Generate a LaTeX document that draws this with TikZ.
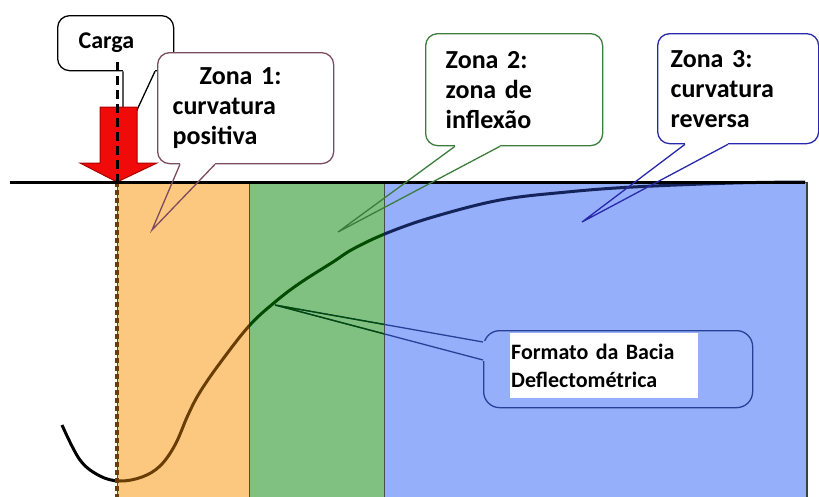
\documentclass[tikz,border=0pt]{standalone}
\usepackage{fontspec}
\setmainfont{Carlito}

\definecolor{zorange}{RGB}{252,200,128}
\definecolor{zgreen}{RGB}{128,192,128}
\definecolor{zblue}{RGB}{150,175,250}
\definecolor{cor}{RGB}{105,62,5}
\definecolor{cgr}{RGB}{0,75,0}
\definecolor{cbl}{RGB}{20,35,90}
\definecolor{z1col}{RGB}{125,75,95}
\definecolor{z2col}{RGB}{60,125,60}
\definecolor{z3col}{RGB}{40,40,170}
\definecolor{fbcol}{RGB}{40,65,150}
\definecolor{arrowred}{RGB}{240,10,10}
\definecolor{arrowdk}{RGB}{170,0,0}

\tikzset{balloon/.style={draw, fill=white, rounded corners=12pt, line width=1.3pt,
  align=left, anchor=north west, font=\bfseries\fontsize{26}{30}\selectfont}}

% tail of a balloon: colour, node, left and right base offsets, tip
\newcommand{\calltail}[5]{%
  \fill[white] ([xshift=#3, yshift=1.5pt]#2.south west) rectangle ([xshift=#4, yshift=-0.8pt]#2.south west);
  \draw[#1, line width=1.3pt] ([xshift=#3]#2.south west) -- (#5) -- ([xshift=#4]#2.south west);}

\newcommand{\perfil}{plot[smooth, tension=0.6] coordinates {(62,425) (80,460) (100,476) (120,481)
  (142,477) (160,466) (175,445) (188,415) (200,392) (220,363) (249,326) (275,302) (300,283)
  (333,262) (353,249) (387,233) (433,217) (500,200) (567,192) (633,187) (733,183) (805,182)}}

\begin{document}
\begin{tikzpicture}[x=1pt, y=-1pt]
\useasboundingbox (0,0) rectangle (819,496);

% zonas
\filldraw[fill=zorange, draw=black!70, line width=0.8pt] (117,182) rectangle (249,500);
\filldraw[fill=zgreen, draw=black!70, line width=0.8pt] (249,182) rectangle (384,500);
\filldraw[fill=zblue, draw=black!70, line width=0.8pt] (384,182) rectangle (807,500);
\draw[black!75, line width=1.5pt] (807,182) -- (807,500);

% bacia deflectometrica
\foreach \xa/\xb/\col in {0/117/black, 117/249/cor, 249/384/cgr, 384/819/cbl}{
  \begin{scope}
    \clip (\xa,0) rectangle (\xb,500);
    \draw[color=\col, line width=3pt] \perfil;
  \end{scope}
}
\draw[cor, line width=3.5pt, dash pattern=on 5pt off 3pt] (117,182) -- (117,500);

% carga
\node[balloon, draw=black, inner xsep=21pt, text width=74pt, minimum height=55pt,
  font=\bfseries\fontsize{24}{30}\selectfont] (carga) at (57,15) {Carga};
\calltail{black}{carga}{66pt}{98pt}{123,140}
\filldraw[fill=arrowred, draw=arrowdk, line width=1pt] (100,107) -- (137,107) -- (137,163) -- (157,163)
  -- (117,182) -- (80,163) -- (100,163) -- cycle;
\draw[line width=3pt, dash pattern=on 9pt off 5pt] (117,62) -- (117,182);

\draw[line width=3pt] (10,182) -- (805,182);

% zonas 1 a 3
\node[balloon, draw=z1col, inner xsep=15pt, text width=146pt, minimum height=111pt] (zona1) at (157,52)
  {\hspace*{27pt}Zona 1:\\curvatura\\positiva};
\calltail{z1col}{zona1}{23pt}{58pt}{152,230}

\node[balloon, draw=z2col, inner xsep=20pt, text width=137pt, minimum height=112pt] (zona2) at (425,33)
  {Zona 2:\\zona de\\inflexão};
\calltail{z2col}{zona2}{30pt}{75pt}{338,232}

\node[balloon, draw=z3col, inner xsep=13pt, text width=135pt, minimum height=110pt] (zona3) at (657,33)
  {Zona 3:\\curvatura\\reversa};
\calltail{z3col}{zona3}{28pt}{71pt}{582,222}

% formato da bacia
\coordinate (ponto) at (275,305);
\node[draw=fbcol, line width=1.3pt, rounded corners=16pt, minimum width=269pt, minimum height=77pt,
  anchor=north west] (bacia) at (483,330) {};
\fill[zblue] ([xshift=-1.5pt, yshift=-11pt]bacia.north west) rectangle ([xshift=2.5pt, yshift=-31pt]bacia.north west);
\draw[fbcol, line width=1.3pt] ([yshift=-12pt]bacia.north west) -- (ponto) -- ([yshift=-30pt]bacia.north west);
\begin{scope}
  \clip (249,182) rectangle (384,500);
  \draw[cgr, line width=1.3pt] ([yshift=-12pt]bacia.north west) -- (ponto) -- ([yshift=-30pt]bacia.north west);
\end{scope}
\node[fill=white, anchor=north west, inner sep=1pt, text width=186pt, minimum height=65pt, align=left,
  font=\bfseries\fontsize{22}{28}\selectfont] (baciatxt) at (510,333) {Formato da Bacia\\Deflectométrica};
\end{tikzpicture}
\end{document}
